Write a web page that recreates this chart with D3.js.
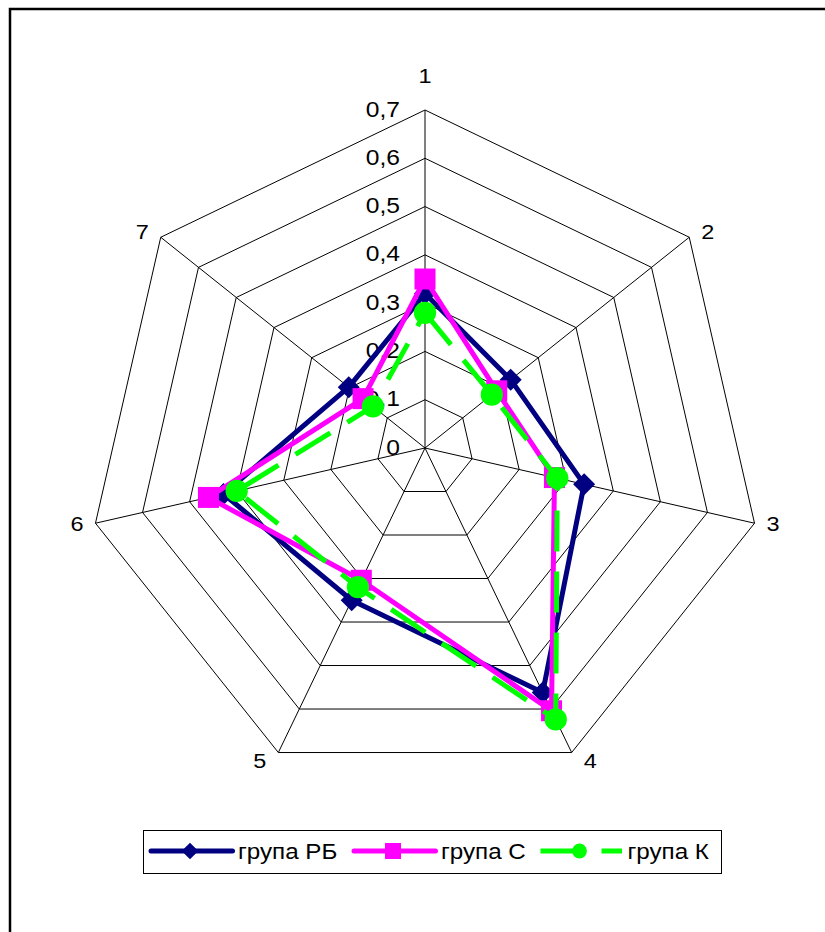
<!DOCTYPE html>
<html>
<head>
<meta charset="utf-8">
<script src="https://cdn.jsdelivr.net/npm/d3@7"></script>
<style>
  body { margin: 0; background: #fff; }
  svg { display: block; }
  text { font-family: "Liberation Sans", Arial, sans-serif; fill: #000; }
</style>
</head>
<body>
<script>
// Radar axes (categories) and the radial scale ticks
const axisLabels = ["1", "2", "3", "4", "5", "6", "7"];
const tickValues = [0, 0.1, 0.2, 0.3, 0.4, 0.5, 0.6, 0.7];
const tickLabels = ["0", "0,1", "0,2", "0,3", "0,4", "0,5", "0,6", "0,7"];

// Series
const seriesNames = ["група РБ", "група С", "група К"];
const groupRB = [0.32, 0.227, 0.338, 0.562, 0.35, 0.428, 0.202];
const groupC  = [0.35, 0.19, 0.275, 0.604, 0.304, 0.46, 0.164];
const groupK  = [0.28, 0.177, 0.281, 0.624, 0.32, 0.40, 0.138];

const W = 825, H = 932;
const cx = 425, cy = 448, R = 338;

const svg = d3.select("body").append("svg").attr("width", W).attr("height", H);

// outer frame
svg.append("path")
  .attr("d", `M10,${H + 2} V9 H${W + 2}`)
  .attr("fill", "none").attr("stroke", "#000").attr("stroke-width", 2.5);

const r = d3.scaleLinear().domain([0, 0.7]).range([0, R]);
const angle = d3.scaleLinear().domain([0, axisLabels.length]).range([0, 2 * Math.PI]);

const g = svg.append("g").attr("transform", `translate(${cx},${cy})`);

// place a text at (x, y) with a horizontal stretch around its anchor (wide lettering)
const placeText = (sel, x, y, k) =>
  sel.attr("transform", `translate(${x},${y}) scale(${k},1)`);

// concentric heptagon grid
const gridLine = d3.lineRadial()
  .angle((d, i) => angle(i))
  .radius(d => r(d))
  .curve(d3.curveLinearClosed);

g.append("g").selectAll("path")
  .data(tickValues.filter(t => t > 0))
  .join("path")
  .attr("d", t => gridLine(axisLabels.map(() => t)))
  .attr("fill", "none").attr("stroke", "#000").attr("stroke-width", 1);

// spokes
g.append("g").selectAll("line")
  .data(axisLabels)
  .join("line")
  .attr("x1", 0).attr("y1", 0)
  .attr("x2", (d, i) => r(0.7) * Math.sin(angle(i)))
  .attr("y2", (d, i) => -r(0.7) * Math.cos(angle(i)))
  .attr("stroke", "#000").attr("stroke-width", 1);

// radial tick labels, left of the first axis
g.append("g").selectAll("text")
  .data(tickValues)
  .join("text")
  .each(function (t) { placeText(d3.select(this), -25, -r(t) + 6.5, 1.12); })
  .attr("text-anchor", "end")
  .attr("font-size", 22)
  .text((t, i) => tickLabels[i]);

// category labels outside the spoke ends
g.append("g").selectAll("text")
  .data(axisLabels)
  .join("text")
  .each(function (d, i) {
    const a = angle(i), s = Math.sin(a), c = Math.cos(a);
    const ex = r(0.7) * s, ey = -r(0.7) * c;
    const t = d3.select(this).attr("font-size", 21);
    if (Math.abs(s) < 0.1) {
      placeText(t, ex, ey - 27, 1.12).attr("text-anchor", "middle");
    } else {
      const dy = c > 0.3 ? -6 : (c < -0.3 ? 7.6 : 0);
      placeText(t, ex + (s > 0 ? 12 : -12), ey + dy + 7.5, 1.12)
        .attr("text-anchor", s > 0 ? "start" : "end");
    }
  })
  .text(d => d);

// series styles
const styles = [
  { name: seriesNames[0], values: groupRB, color: "#000080", symbol: d3.symbolSquare, rot: 45, size: 242, legSize: 139, dash: null },
  { name: seriesNames[1], values: groupC,  color: "#FF00FF", symbol: d3.symbolSquare, rot: 0,  size: 441, legSize: 256, dash: null },
  { name: seriesNames[2], values: groupK,  color: "#00FF00", symbol: d3.symbolCircle, rot: 0,  size: 390, legSize: 172, dash: "41,20" }
];

const seriesLine = d3.lineRadial()
  .angle((d, i) => angle(i))
  .radius(d => r(d))
  .curve(d3.curveLinearClosed);

styles.forEach(s => {
  const sg = g.append("g");
  sg.append("path")
    .attr("d", seriesLine(s.values))
    .attr("fill", "none")
    .attr("stroke", s.color)
    .attr("stroke-width", 5)
    .attr("stroke-linejoin", "round")
    .attr("stroke-dasharray", s.dash);
  sg.selectAll("path.m")
    .data(s.values)
    .join("path")
    .attr("class", "m")
    .attr("d", d3.symbol(s.symbol, s.size))
    .attr("transform", (v, i) => {
      const a = angle(i);
      return `translate(${r(v) * Math.sin(a)},${-r(v) * Math.cos(a)}) rotate(${s.rot})`;
    })
    .attr("fill", s.color);
});

// legend
const legend = svg.append("g");
legend.append("rect")
  .attr("x", 143.5).attr("y", 830.5).attr("width", 578).attr("height", 43)
  .attr("fill", "#fff").attr("stroke", "#000").attr("stroke-width", 1);

const legX = d3.scaleOrdinal().domain(seriesNames).range([151, 354, 540.5]);
const legY = 851;
const sampleLen = 81.5;
styles.forEach(s => {
  const x0 = legX(s.name);
  legend.append("line")
    .attr("x1", x0).attr("x2", x0 + sampleLen)
    .attr("y1", legY).attr("y2", legY)
    .attr("stroke", s.color).attr("stroke-width", 5)
    .attr("stroke-linecap", s.dash ? "butt" : "round")
    .attr("stroke-dasharray", s.dash);
  legend.append("path")
    .attr("d", d3.symbol(s.symbol, s.legSize))
    .attr("transform", `translate(${x0 + 39},${legY}) rotate(${s.rot})`)
    .attr("fill", s.color);
  placeText(legend.append("text"), x0 + sampleLen + 5.5, legY + 8, 1.1)
    .attr("font-size", 22)
    .text(s.name);
});
</script>
</body>
</html>
